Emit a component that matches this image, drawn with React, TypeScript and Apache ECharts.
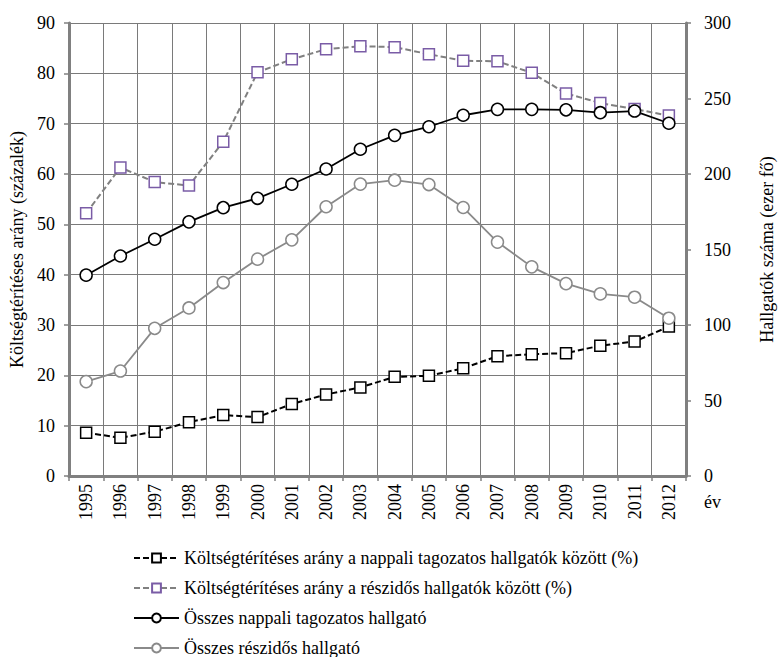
import React, { useEffect, useRef } from "react";
import * as echarts from "echarts";

const years = ["1995","1996","1997","1998","1999","2000","2001","2002","2003","2004","2005","2006","2007","2008","2009","2010","2011","2012"];
const nappaliArany = [8.6, 7.6, 8.8, 10.7, 12.1, 11.7, 14.3, 16.2, 17.6, 19.7, 19.9, 21.4, 23.8, 24.2, 24.4, 25.9, 26.7, 29.7];
const reszidosArany = [52.2, 61.3, 58.4, 57.7, 66.4, 80.2, 82.8, 84.8, 85.4, 85.2, 83.8, 82.5, 82.4, 80.1, 76.0, 74.1, 72.9, 71.6];
const osszesNappali = [133, 145.7, 156.8, 168.3, 177.7, 183.9, 193.2, 203.3, 216.4, 225.6, 231.3, 238.9, 242.8, 242.8, 242.5, 240.6, 241.7, 233.6];
const osszesReszidos = [62.5, 69.5, 97.8, 111.3, 128.1, 143.6, 156.4, 178.3, 193.3, 195.9, 193.0, 177.8, 154.9, 138.5, 127.4, 120.6, 118.4, 104.5];
const seriesNames = [
  "Költségtérítéses arány a nappali tagozatos hallgatók között (%)",
  "Költségtérítéses arány a részidős hallgatók között (%)",
  "Összes nappali tagozatos hallgató",
  "Összes részidős hallgató",
];

const FONT = "Liberation Serif, DejaVu Serif, serif";

export default function App() {
  const ref = useRef<HTMLDivElement>(null);
  useEffect(() => {
    const chart = echarts.init(ref.current!, null, { renderer: "svg" });
    chart.setOption({
      animation: false,
      textStyle: { fontFamily: FONT, color: "#000" },
      grid: { left: 68, right: 76, top: 23, bottom: 181, containLabel: false },
      legend: {
        orient: "vertical",
        left: 133,
        top: 548,
        height: 118,
        padding: 0,
        itemGap: 10,
        itemWidth: 45,
        itemHeight: 11,
        textStyle: { fontFamily: FONT, fontSize: 18, lineHeight: 20, color: "#000" },
        data: seriesNames,
      },
      xAxis: {
        type: "category",
        data: years,
        boundaryGap: true,
        name: "év",
        nameLocation: "end",
        nameGap: 18,
        nameTextStyle: { fontFamily: FONT, fontSize: 18, color: "#000", verticalAlign: "top", padding: [17, 0, 0, 0] },
        axisLine: { show: true, lineStyle: { color: "#808080", width: 3 } },
        axisTick: { show: true, interval: 0, length: 5, lineStyle: { color: "#808080", width: 1.5 } },
        axisLabel: { rotate: 90, interval: 0, fontFamily: FONT, fontSize: 18, color: "#000", margin: 8 },
        splitLine: { show: true, interval: 0, lineStyle: { color: "#7a7a7a", width: 1 } },
      },
      yAxis: [
        {
          type: "value",
          min: 0,
          max: 90,
          interval: 10,
          position: "left",
          name: "Költségtérítéses arány (százalék)",
          nameLocation: "middle",
          nameRotate: 90,
          nameGap: 43,
          nameTextStyle: { fontFamily: FONT, fontSize: 18, color: "#000" },
          axisLine: { show: true, lineStyle: { color: "#808080", width: 3 } },
          axisTick: { show: true, length: 5, lineStyle: { color: "#808080", width: 1.5 } },
          axisLabel: { fontFamily: FONT, fontSize: 18, color: "#000", margin: 14 },
          splitLine: { show: true, lineStyle: { color: "#7a7a7a", width: 1 } },
        },
        {
          type: "value",
          min: 0,
          max: 300,
          interval: 50,
          position: "right",
          name: "Hallgatók száma (ezer fő)",
          nameLocation: "middle",
          nameRotate: 90,
          nameGap: 72,
          nameTextStyle: { fontFamily: FONT, fontSize: 18, color: "#000" },
          axisLine: { show: true, lineStyle: { color: "#808080", width: 3 } },
          axisTick: { show: true, length: 5, lineStyle: { color: "#808080", width: 1.5 } },
          axisLabel: { fontFamily: FONT, fontSize: 18, color: "#000", margin: 18 },
          splitLine: { show: false },
        },
      ],
      series: [
        {
          name: seriesNames[0],
          type: "line",
          yAxisIndex: 0,
          data: nappaliArany,
          symbol: "rect",
          symbolSize: 11,
          lineStyle: { color: "#000", width: 2, type: [6, 3] },
          itemStyle: { color: "#fff", borderColor: "#000", borderWidth: 1.5 },
        },
        {
          name: seriesNames[1],
          type: "line",
          yAxisIndex: 0,
          data: reszidosArany,
          symbol: "rect",
          symbolSize: 11,
          lineStyle: { color: "#808080", width: 2, type: [6, 3] },
          itemStyle: { color: "#fff", borderColor: "#7a5ca6", borderWidth: 1.5 },
        },
        {
          name: seriesNames[2],
          type: "line",
          yAxisIndex: 1,
          data: osszesNappali,
          symbol: "circle",
          symbolSize: 12,
          lineStyle: { color: "#000", width: 1.8 },
          itemStyle: { color: "#fff", borderColor: "#000", borderWidth: 1.5 },
        },
        {
          name: seriesNames[3],
          type: "line",
          yAxisIndex: 1,
          data: osszesReszidos,
          symbol: "circle",
          symbolSize: 12,
          lineStyle: { color: "#8a8a8a", width: 1.8 },
          itemStyle: { color: "#fff", borderColor: "#8a8a8a", borderWidth: 1.5 },
        },
      ],
    });
    return () => chart.dispose();
  }, []);
  return <div ref={ref} style={{ width: 784, height: 657, position: "absolute", left: 0, top: 0, background: "#fff" }} />;
}
